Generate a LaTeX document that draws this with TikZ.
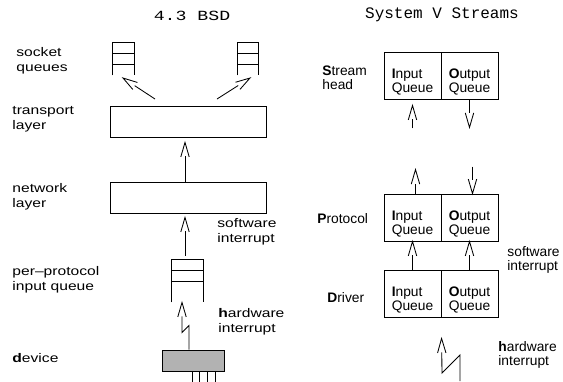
\documentclass[tikz,border=0pt]{standalone}
\usepackage{fontspec}
\setmainfont{Liberation Sans}
\newfontfamily\lfont[FakeStretch=1.25]{Liberation Sans}
\newfontfamily\tmonoL[FakeStretch=1.3]{Liberation Mono}
\newfontfamily\tmonoR{Liberation Mono}
\usetikzlibrary{decorations.markings}
\begin{document}
\begin{tikzpicture}[x=1pt,y=-1pt,line width=0.85pt,
  lbl/.style={font=\lfont\fontsize{12.5}{15}\selectfont,align=left,anchor=west,inner sep=0pt},
  rlbl/.style={font=\fontsize{13.8}{14.5}\selectfont,align=left,anchor=west,inner sep=0pt},
  layerbox/.style={draw,rectangle,minimum width=156pt,minimum height=31pt,inner sep=0pt},
  qbox/.style={rectangle,inner sep=0pt},
  half/.style={draw,rectangle,minimum width=57pt,minimum height=47pt,inner sep=0pt,
    font=\fontsize{13.8}{14}\selectfont,align=left,text height=33pt,text depth=0pt},
  chev/.style={shorten >=14pt,postaction={decorate,decoration={markings,
    mark=at position 0.9999 with {\draw[shorten >=0pt,shorten <=0pt,line join=miter]
      (-14.5pt,4.2pt) -- (0pt,0pt) -- (-14.5pt,-4.2pt);}}}},
]
\useasboundingbox (0,0) rectangle (563,381);

% titles
\node[font=\tmonoL\fontsize{14}{14}\selectfont,anchor=base,inner sep=0pt] (t1) at (192,20.5) {4.3 BSD};
\node[font=\tmonoR\fontsize{16}{16}\selectfont,anchor=base,inner sep=0pt] (t2) at (442,18.3) {System V Streams};

% ---------- left: 4.3 BSD ----------
\node[lbl] (lsock) at (16,60.5) {socket\\queues};
\node[lbl] (ltrans) at (12,119.5) {transport\\layer};
\node[lbl] (lnet) at (12,197) {network\\layer};
\node[lbl] (lpq) at (12,280) {per–protocol\\input queue};
\node[lbl] (ldev) at (12,358) {\textbf{d}evice};
\node[lbl] (lsw) at (217,232) {software\\interrupt};
\node[lbl] (lhw) at (218,322) {\textbf{h}ardware\\interrupt};

% socket queues
\node[qbox,minimum width=21pt,minimum height=32pt] (sq1) at (123.5,59) {};
\node[qbox,minimum width=20pt,minimum height=32pt] (sq2) at (248,59) {};
\foreach \q in {sq1,sq2}{
  \draw (\q.south west) -- (\q.north west) -- (\q.north east) -- (\q.south east);
  \draw ([yshift=-11pt]\q.north west) -- ([yshift=-11pt]\q.north east);
  \draw ([yshift=-22pt]\q.north west) -- ([yshift=-22pt]\q.north east);
}

% layers
\node[layerbox] (trans) at (188,121.5) {};
\node[layerbox] (net) at (188,197.5) {};

% per-protocol input queue
\node[qbox,minimum width=31pt,minimum height=42pt] (pq) at (187.5,281) {};
\draw (pq.south west) -- (pq.north west) -- (pq.north east) -- (pq.south east);
\draw ([yshift=-11pt]pq.north west) -- ([yshift=-11pt]pq.north east);
\draw ([yshift=-22pt]pq.north west) -- ([yshift=-22pt]pq.north east);

% device
\node[draw,rectangle,fill=black!30,minimum width=62pt,minimum height=21pt,inner sep=0pt] (dev) at (193,360.5) {};
\foreach \dx in {31,38,46,54}
  \draw ([xshift=\dx pt]dev.south west) -- ++(0,11);

% arrows left
\coordinate (sa1) at (155,99);
\coordinate (sa1h) at (123,78);
\coordinate (sa2) at (217,99);
\coordinate (sa2h) at (250,78);
\draw[chev] (sa1) -- (sa1h);
\draw[chev] (sa2) -- (sa2h);
\draw[chev] ([xshift=-3pt]net.north) -- ([xshift=-3pt,yshift=-5pt]trans.south);
\draw[chev] ([xshift=-2.5pt,yshift=4pt]pq.north) -- ([xshift=-3pt,yshift=-4pt]net.south);
\draw[chev] ([xshift=-4pt]dev.north) -- ++(0,-24) -- ++(-7,7) -- ([xshift=-5.5pt]pq.south);

% ---------- right: System V Streams ----------
\node[rlbl] (rsh) at (322,77.5) {\textbf{S}tream\\head};
\node[rlbl] (rpr) at (317,219) {\textbf{P}rotocol};
\node[rlbl] (rdr) at (327,298) {\textbf{D}river};
\node[rlbl] (rsw) at (507,260) {software\\interrupt};
\node[rlbl] (rhw) at (498,355) {\textbf{h}ardware\\interrupt};

\node[half] (shL) at (412.5,75.5) {\textbf{I}nput\\Queue};
\node[half] (shR) at (469.5,75.5) {\textbf{O}utput\\Queue};
\node[half] (prL) at (412.5,217.5) {\textbf{I}nput\\Queue};
\node[half] (prR) at (469.5,217.5) {\textbf{O}utput\\Queue};
\node[half] (drL) at (412.5,293.5) {\textbf{I}nput\\Queue};
\node[half] (drR) at (469.5,293.5) {\textbf{O}utput\\Queue};

% arrows right
\draw[chev] ([yshift=-29pt]shL.south) -- ([yshift=-6pt]shL.south);
\draw[chev] (shR.south) -- ([yshift=-28pt]shR.south);
\draw[chev] ([xshift=3pt]prL.north) -- ([xshift=3pt,yshift=24pt]prL.north);
\draw[chev] ([xshift=3pt,yshift=27pt]prR.north) -- ([xshift=3pt]prR.north);
\draw[chev] (drL.north) -- (prL.south);
\draw[chev] (drR.north) -- (prR.south);
\coordinate (hz) at (460,381);
\coordinate (hztip) at ([xshift=1pt,yshift=-21pt]drR.south west);
\draw[chev] (hz) -- ++(0,-26) -- ++(-18,18) -- (hztip);
\end{tikzpicture}
\end{document}
